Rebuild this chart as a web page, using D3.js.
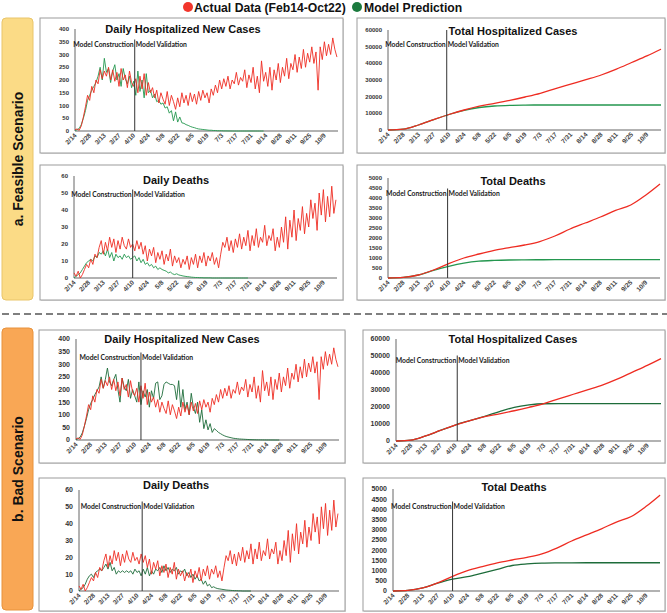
<!DOCTYPE html>
<html>
<head>
<meta charset="utf-8">
<script src="https://cdn.jsdelivr.net/npm/d3@7"></script>
<style>
  body { margin: 0; background: #fff; }
  svg { display: block; font-family: Arial, "Liberation Sans", sans-serif; }
</style>
</head>
<body>
<div id="chart"></div>
<script>
// x axis: one category per day, Feb14 .. Oct22 (252 days), labels every 14 days
const tickLabels = ["2/14","2/28","3/13","3/27","4/10","4/24","5/8","5/22","6/5","6/19",
                    "7/3","7/17","7/31","8/14","8/28","9/11","9/25","10/9"];
const tickDays = [0,14,28,42,56,70,84,98,112,126,140,154,168,182,196,210,224,238];
const lastDay = 251;
const totalDays = tickDays.concat([lastDay]);   // days at which the cumulative curves were read

// daily series, read every second day (day 0, 2, 4, ...)
const actualCases = [5, 8, 3, 20, 55, 95, 140,
  120, 175, 150, 200, 185, 240, 205,
  235, 215, 250, 200, 240, 195, 230,
  175, 245, 200, 220, 170, 235, 190,
  175, 205, 150, 215, 165, 225, 140,
  190, 150, 170, 130, 160, 110, 150,
  125, 105, 155, 100, 140, 115, 85,
  130, 95, 150, 110, 140, 100, 150,
  115, 145, 105, 155, 120, 160, 130,
  150, 110, 165, 140, 180, 150, 200,
  165, 205, 175, 215, 165, 200, 185,
  230, 180, 210, 195, 240, 170, 220,
  190, 250, 165, 215, 150, 275, 195,
  230, 175, 250, 160, 240, 200, 265,
  190, 250, 215, 285, 205, 265, 240,
  300, 230, 290, 245, 320, 250, 305,
  270, 330, 265, 310, 160, 330, 280,
  350, 295, 340, 300, 365, 320, 290];

const actualDeaths = [3, 1, 4, 0, 2, 5, 8,
  6, 11, 8, 14, 12, 18, 22,
  14, 21, 16, 24, 18, 23, 15,
  22, 17, 24, 19, 17, 23, 18,
  20, 16, 22, 17, 21, 14, 19,
  10, 17, 13, 18, 9, 15, 11,
  16, 8, 14, 10, 17, 7, 13,
  9, 12, 6, 11, 8, 13, 5,
  12, 8, 14, 6, 13, 9, 15,
  7, 13, 10, 15, 8, 12, 6,
  14, 21, 18, 24, 16, 22, 15,
  23, 18, 26, 17, 24, 19, 28,
  16, 25, 19, 29, 18, 24, 21,
  31, 19, 25, 22, 29, 16, 24,
  18, 30, 21, 36, 17, 34, 24,
  40, 22, 35, 28, 42, 26, 38,
  30, 46, 35, 44, 28, 50, 37,
  52, 33, 48, 36, 54, 38, 46];

// model prediction, feasible scenario
const feasibleCases = [2, 5, 10, 25, 50, 80, 120,
  140, 160, 175, 190, 215, 250, 200,
  285, 230, 245, 190, 235, 260, 200,
  225, 175, 245, 205, 185, 215, 170,
  195, 140, 235, 155, 200, 130, 225,
  150, 160, 130, 145, 115, 120, 105,
  110, 90, 95, 70, 80, 40, 75,
  35, 55, 32, 30, 25, 22, 18,
  15, 13, 10, 8, 7, 6, 5,
  4, 3, 3, 2, 2, 1, 1,
  1, 0.5, 0.5, 0.3, 0.2, 0.1, 0,
  0, 0, 0, 0, 0, 0, 0,
  0, 0, 0, 0, 0, 0, 0];

const feasibleDeaths = [0, 1, 2, 3, 5, 7, 9,
  10, 11, 10, 13, 12, 15, 14,
  16, 13, 17, 12, 15, 10, 14,
  12, 13, 11, 14, 12, 13, 11,
  12, 13, 10, 12, 9, 11, 8,
  9, 7, 8, 6, 7, 5, 6,
  5, 4.5, 4, 3, 3.5, 2.5, 2,
  2.5, 1.8, 1.5, 1.2, 1, 0.8, 0.7,
  0.5, 0.4, 0.3, 0.3, 0.2, 0.2, 0.1,
  0.1, 0.1, 0.1, 0, 0, 0, 0,
  0, 0, 0, 0, 0, 0, 0,
  0, 0, 0, 0, 0, 0, 0];

// model prediction, bad scenario
const badCases = [2, 5, 12, 28, 55, 85, 120,
  145, 160, 180, 195, 210, 250, 205,
  240, 285, 230, 215, 240, 260, 200,
  150, 245, 210, 195, 240, 165, 200,
  175, 150, 230, 140, 195, 170, 200,
  130, 195, 165, 225, 230, 160, 175,
  220, 230, 225, 220, 220, 215, 160,
  235, 130, 200, 120, 150, 100, 185,
  130, 105, 150, 70, 120, 45, 80,
  40, 65, 30, 45, 38, 30, 25,
  20, 16, 13, 11, 9, 7, 6,
  5, 4, 3.5, 3, 2.5, 2, 1.5,
  1.2, 1, 0.8, 0.6, 0.5, 0.4, 0.3,
  0.2, 0.2, 0.1, 0.1, 0, 0, 0];

const badDeaths = [0, 1, 2, 4, 7, 9, 10,
  8, 11, 12, 13, 12, 14, 16,
  13, 17, 12, 14, 10, 12, 11,
  12, 11, 12, 11, 12, 10, 13,
  11, 12, 9, 13, 10, 14, 9,
  12, 10, 13, 12, 14, 11, 15,
  12, 14, 11, 13, 12, 14, 10,
  12, 11, 13, 9, 11, 8, 10,
  7, 9, 6, 7, 4, 6, 3,
  4, 2, 2.5, 1.8, 1.4, 1.2, 1,
  0.8, 0.6, 0.5, 0.4, 0.3, 0.2, 0.2,
  0.1, 0.1, 0, 0, 0, 0, 0];

// cumulative curves, read at each tick day and at Oct22
const totalCasesActual   = [0, 500, 3000, 6200, 9300, 12000, 14300, 16000, 17800, 19800, 22000, 24800, 27500, 30200, 33000, 36500, 40500, 44500, 48500];
const totalCasesFeasible = [0, 500, 3000, 6200, 9300, 11800, 13500, 14400, 14800, 14950, 15000, 15000, 15000, 15000, 15000, 15000, 15000, 15000, 15000];
const totalCasesBad      = [0, 500, 3000, 6200, 9400, 12000, 14500, 17300, 19800, 21200, 21900, 22000, 22000, 22000, 22000, 22000, 22000, 22000, 22000];
const totalDeathsActual   = [0, 30, 150, 400, 720, 1000, 1200, 1380, 1520, 1650, 1820, 2100, 2450, 2750, 3050, 3380, 3650, 4150, 4700];
const totalDeathsFeasible = [0, 30, 150, 380, 580, 740, 840, 880, 900, 908, 912, 915, 915, 915, 915, 915, 915, 915, 915];
const totalDeathsBad      = [0, 30, 150, 380, 580, 700, 880, 1060, 1250, 1330, 1370, 1380, 1383, 1385, 1385, 1385, 1385, 1385, 1385];

const legendItems = ["Actual Data (Feb14-Oct22)", "Model Prediction"];
const scenarioNames = ["a. Feasible Scenario", "b. Bad Scenario"];

const RED = "#ee2c22", GREEN_A = "#24974f", GREEN_B = "#1d6c3a";

const svg = d3.select("#chart").append("svg")
  .attr("width", 667).attr("height", 613);

// legend
const legend = svg.append("g").attr("font-weight", "bold").attr("font-size", 12.2).attr("fill", "#111");
legend.append("circle").attr("cx", 188).attr("cy", 7).attr("r", 5).attr("fill", "#f2352b");
legend.append("text").attr("x", 194).attr("y", 11.5).text(legendItems[0]);
legend.append("circle").attr("cx", 357).attr("cy", 7).attr("r", 5).attr("fill", "#1b7a3e");
legend.append("text").attr("x", 364).attr("y", 11.5).text(legendItems[1]);

// scenario tabs
const tabs = [
  { y0: 18, y1: 300, fill: "#fbdb86", stroke: "#e9c56a", name: scenarioNames[0] },
  { y0: 328, y1: 610, fill: "#f9a755", stroke: "#e8923c", name: scenarioNames[1] }
];
tabs.forEach(t => {
  svg.append("rect").attr("x", 2).attr("y", t.y0).attr("width", 31).attr("height", t.y1 - t.y0)
    .attr("rx", 4).attr("fill", t.fill).attr("stroke", t.stroke).attr("stroke-width", 1);
  svg.append("text")
    .attr("transform", `translate(23,${(t.y0 + t.y1) / 2}) rotate(-90)`)
    .attr("text-anchor", "middle").attr("font-weight", "bold").attr("font-size", 14)
    .attr("fill", "#111").text(t.name);
});

// dashed separator
svg.append("line").attr("x1", 2).attr("x2", 667).attr("y1", 314).attr("y2", 314)
  .attr("stroke", "#555").attr("stroke-width", 1.6).attr("stroke-dasharray", "7,4");

const panels = [
  { frame: [40, 18, 343, 153], x: [75, 338], y: [131, 29], max: 400, step: 50, title: "Daily Hospitalized New Cases",
    tx: 183, ty: 33, ly: 46.5, div: 57, yfont: 6,
    series: [[feasibleCases, 2, GREEN_A], [actualCases, 2, RED]] },
  { frame: [40, 165, 343, 300], x: [74, 337], y: [278, 176], max: 60, step: 10, title: "Daily Deaths",
    tx: 176, ty: 184, ly: 196.5, div: 56, yfont: 6,
    series: [[feasibleDeaths, 2, GREEN_A], [actualDeaths, 2, RED]] },
  { frame: [357, 18, 665, 153], x: [388, 661], y: [130, 30], max: 60000, step: 10000, title: "Total Hospitalized Cases",
    tx: 513, ty: 35, ly: 46.5, div: 54, divTop: 30, yfont: 6,
    cumulative: true, series: [[totalCasesFeasible, 0, GREEN_A], [totalCasesActual, 0, RED]] },
  { frame: [357, 165, 665, 300], x: [388, 660], y: [278, 178], max: 5000, step: 500, title: "Total Deaths",
    tx: 513, ty: 185, ly: 195.5, div: 55, yfont: 6,
    cumulative: true, series: [[totalDeathsFeasible, 0, GREEN_A], [totalDeathsActual, 0, RED]] },
  { frame: [39, 330, 345, 463], x: [76, 339], y: [440, 339], max: 400, step: 50, title: "Daily Hospitalized New Cases",
    tx: 182, ty: 343, ly: 359.5, div: 62, yfont: 7,
    series: [[badCases, 2, GREEN_B], [actualCases, 2, RED]] },
  { frame: [39, 478, 345, 611], x: [79, 339], y: [591, 490], max: 60, step: 10, title: "Daily Deaths",
    tx: 176, ty: 489, ly: 508.5, div: 61, yfont: 7,
    series: [[badDeaths, 2, GREEN_B], [actualDeaths, 2, RED]] },
  { frame: [363, 330, 665, 463], x: [396, 661], y: [441, 339], max: 60000, step: 10000, title: "Total Hospitalized Cases",
    tx: 513, ty: 343, ly: 362.5, div: 58, yfont: 7,
    cumulative: true, series: [[totalCasesBad, 0, GREEN_B], [totalCasesActual, 0, RED]] },
  { frame: [363, 478, 665, 611], x: [393, 660], y: [591, 489], max: 5000, step: 500, title: "Total Deaths",
    tx: 514, ty: 491, ly: 508.5, div: 56, yfont: 7,
    cumulative: true, series: [[totalDeathsBad, 0, GREEN_B], [totalDeathsActual, 0, RED]] }
];

panels.forEach(p => {
  const g = svg.append("g");
  const [fx0, fy0, fx1, fy1] = p.frame;
  g.append("rect").attr("x", fx0 + 1).attr("y", fy0 + 1).attr("width", fx1 - fx0).attr("height", fy1 - fy0)
    .attr("fill", "#ddd");
  g.append("rect").attr("x", fx0).attr("y", fy0).attr("width", fx1 - fx0).attr("height", fy1 - fy0)
    .attr("fill", "#fff").attr("stroke", "#9c9c9c").attr("stroke-width", 1);

  const x = d3.scaleLinear().domain([0, lastDay]).range(p.x);
  const y = d3.scaleLinear().domain([0, p.max]).range(p.y);

  // y labels
  g.selectAll(".yl").data(d3.range(0, p.max + 1, p.step)).join("text")
    .attr("x", p.x[0] - 6).attr("y", d => y(d) + p.yfont * 0.35)
    .attr("text-anchor", "end").attr("font-size", p.yfont).attr("font-weight", "bold")
    .attr("fill", "#333").text(d => d);

  // x labels
  g.selectAll(".xl").data(tickDays).join("text")
    .attr("transform", d => `translate(${x(d) + 2},${p.y[0] + 5}) rotate(-45)`)
    .attr("text-anchor", "end").attr("font-size", 6.5).attr("font-weight", "bold")
    .attr("fill", "#444").text((d, i) => tickLabels[i]);

  // axes lines
  g.append("line").attr("x1", p.x[0]).attr("x2", p.x[0]).attr("y1", p.y[1]).attr("y2", p.y[0])
    .attr("stroke", "#555").attr("stroke-width", 0.9);
  g.append("line").attr("x1", p.x[0]).attr("x2", p.x[1]).attr("y1", p.y[0]).attr("y2", p.y[0])
    .attr("stroke", "#666").attr("stroke-width", 1.2);

  // series
  p.series.forEach(([vals, step, color]) => {
    const line = d3.line()
      .x((d, i) => x(step ? i * step : totalDays[i]))
      .y(d => y(d));
    if (p.cumulative) line.curve(d3.curveMonotoneX);
    g.append("path").datum(vals).attr("d", line)
      .attr("fill", "none").attr("stroke", color)
      .attr("stroke-width", p.cumulative ? 1.3 : 0.9).attr("stroke-linejoin", "round");
  });

  // construction / validation divider
  const dx = x(p.div);
  g.append("line").attr("x1", dx).attr("x2", dx)
    .attr("y1", p.divTop !== undefined ? p.divTop : p.ly - 7).attr("y2", p.y[0])
    .attr("stroke", "#333").attr("stroke-width", 1);
  g.append("text").attr("x", dx - 1).attr("y", p.ly).attr("text-anchor", "end")
    .attr("font-family", "Lato, 'Open Sans', sans-serif").attr("font-weight", "bold")
    .attr("font-size", 6.8).attr("fill", "#1a1a1a").text("Model Construction");
  g.append("text").attr("x", dx + 1).attr("y", p.ly).attr("text-anchor", "start")
    .attr("font-family", "Lato, 'Open Sans', sans-serif").attr("font-weight", "bold")
    .attr("font-size", 6.8).attr("fill", "#1a1a1a").text("Model Validation");

  // title
  g.append("text").attr("x", p.tx).attr("y", p.ty).attr("text-anchor", "middle")
    .attr("font-weight", "bold").attr("font-size", 11).attr("fill", "#111").text(p.title);
});
</script>
</body>
</html>
